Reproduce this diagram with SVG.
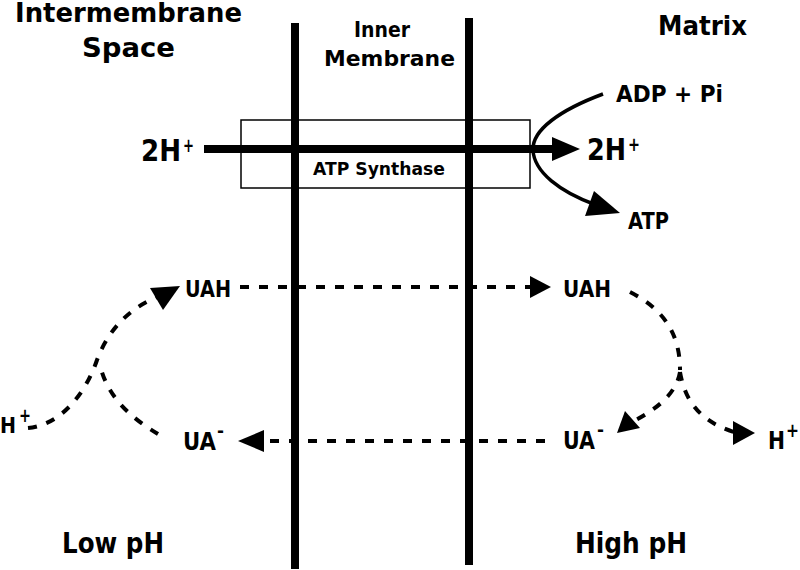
<svg xmlns="http://www.w3.org/2000/svg" width="800" height="570" viewBox="0 0 800 570">
<style>
text{font-family:"DejaVu Sans","Liberation Sans",sans-serif;font-weight:bold;fill:#000}
.dash{fill:none;stroke:#000;stroke-width:4;stroke-dasharray:9 10}
.solid{fill:none;stroke:#000;stroke-width:3.5}
.head{fill:#000}
</style>
<rect width="800" height="570" fill="#fff"/>
<g id="labels">
<text x="15" y="22" font-size="26" textLength="227" lengthAdjust="spacingAndGlyphs">Intermembrane</text>
<text x="82" y="57" font-size="26" textLength="93" lengthAdjust="spacingAndGlyphs">Space</text>
<text x="354" y="37" font-size="21" textLength="56" lengthAdjust="spacingAndGlyphs">Inner</text>
<text x="324" y="66" font-size="21" textLength="131" lengthAdjust="spacingAndGlyphs">Membrane</text>
<text x="658" y="35" font-size="27" textLength="89" lengthAdjust="spacingAndGlyphs">Matrix</text>
<text x="62" y="553" font-size="28" textLength="102" lengthAdjust="spacingAndGlyphs">Low pH</text>
<text x="575" y="553" font-size="28" textLength="112" lengthAdjust="spacingAndGlyphs">High pH</text>
</g>
<g id="membranes">
<rect x="291" y="23" width="8" height="546" fill="#000"/>
<rect x="465" y="18" width="8" height="547" fill="#000"/>
</g>
<g id="atp-synthase">
<rect x="241" y="120" width="289" height="68" fill="none" stroke="#000" stroke-width="1.5"/>
<text x="313" y="175" font-size="18" textLength="132" lengthAdjust="spacingAndGlyphs">ATP Synthase</text>
</g>
<g id="h-left-top">
<text x="141" y="161" font-size="30" textLength="40" lengthAdjust="spacingAndGlyphs">2H</text>
<text x="183" y="152" font-size="20" textLength="11" lengthAdjust="spacingAndGlyphs">+</text>
</g>
<g id="h-right-top">
<text x="587" y="160" font-size="30" textLength="39" lengthAdjust="spacingAndGlyphs">2H</text>
<text x="628" y="151" font-size="20" textLength="12" lengthAdjust="spacingAndGlyphs">+</text>
</g>
<g id="adp">
<text x="616" y="102" font-size="23" textLength="107" lengthAdjust="spacingAndGlyphs">ADP + Pi</text>
</g>
<g id="atp">
<text x="628" y="229" font-size="23" textLength="41" lengthAdjust="spacingAndGlyphs">ATP</text>
</g>
<g id="uah-left">
<text x="185" y="297" font-size="23" textLength="46" lengthAdjust="spacingAndGlyphs">UAH</text>
</g>
<g id="uah-right">
<text x="563" y="297" font-size="23" textLength="48" lengthAdjust="spacingAndGlyphs">UAH</text>
</g>
<g id="ua-left">
<text x="183" y="450" font-size="24" textLength="33" lengthAdjust="spacingAndGlyphs">UA</text>
<text x="217" y="437" font-size="18" textLength="7" lengthAdjust="spacingAndGlyphs">-</text>
</g>
<g id="ua-right">
<text x="563" y="449" font-size="24" textLength="32" lengthAdjust="spacingAndGlyphs">UA</text>
<text x="597" y="436" font-size="18" textLength="7" lengthAdjust="spacingAndGlyphs">-</text>
</g>
<g id="h-left">
<text x="0" y="433" font-size="21" textLength="16" lengthAdjust="spacingAndGlyphs">H</text>
<text x="19" y="422" font-size="20" textLength="12" lengthAdjust="spacingAndGlyphs">+</text>
</g>
<g id="h-right">
<text x="768" y="449" font-size="24" textLength="17" lengthAdjust="spacingAndGlyphs">H</text>
<text x="786" y="437" font-size="20" textLength="13" lengthAdjust="spacingAndGlyphs">+</text>
</g>
<g id="connectors">
<line x1="204" y1="149" x2="556" y2="149" stroke="#000" stroke-width="8"/>
<polygon class="head" points="552,137 580,149 552,161"/>
<path class="solid" d="M603,94 C560,110 532,130 533,150 C534,172 560,192 596,205"/>
<polygon class="head" points="594,191 620,213 585,216"/>
<line class="dash" x1="240" y1="287" x2="532" y2="287"/>
<polygon class="head" points="530,276 551,287 530,298"/>
<line class="dash" x1="545" y1="441" x2="262" y2="441"/>
<polygon class="head" points="264,430 238,441 264,452"/>
<path class="dash" d="M28,428 C60,425 85,395 97,360 C110,325 135,305 160,296"/>
<polygon class="head" points="150,288 180,286 163,310"/>
<path class="dash" d="M158,434 C135,420 108,400 100,365"/>
<path class="dash" d="M630,292 C665,310 680,335 680,370"/>
<path class="dash" d="M680,372 C676,395 655,410 632,422"/>
<polygon class="head" points="625,411 617,433 640,428"/>
<path class="dash" d="M680,372 C684,395 695,420 734,432"/>
<polygon class="head" points="733,421 755,433 733,445"/>
</g>
</svg>
